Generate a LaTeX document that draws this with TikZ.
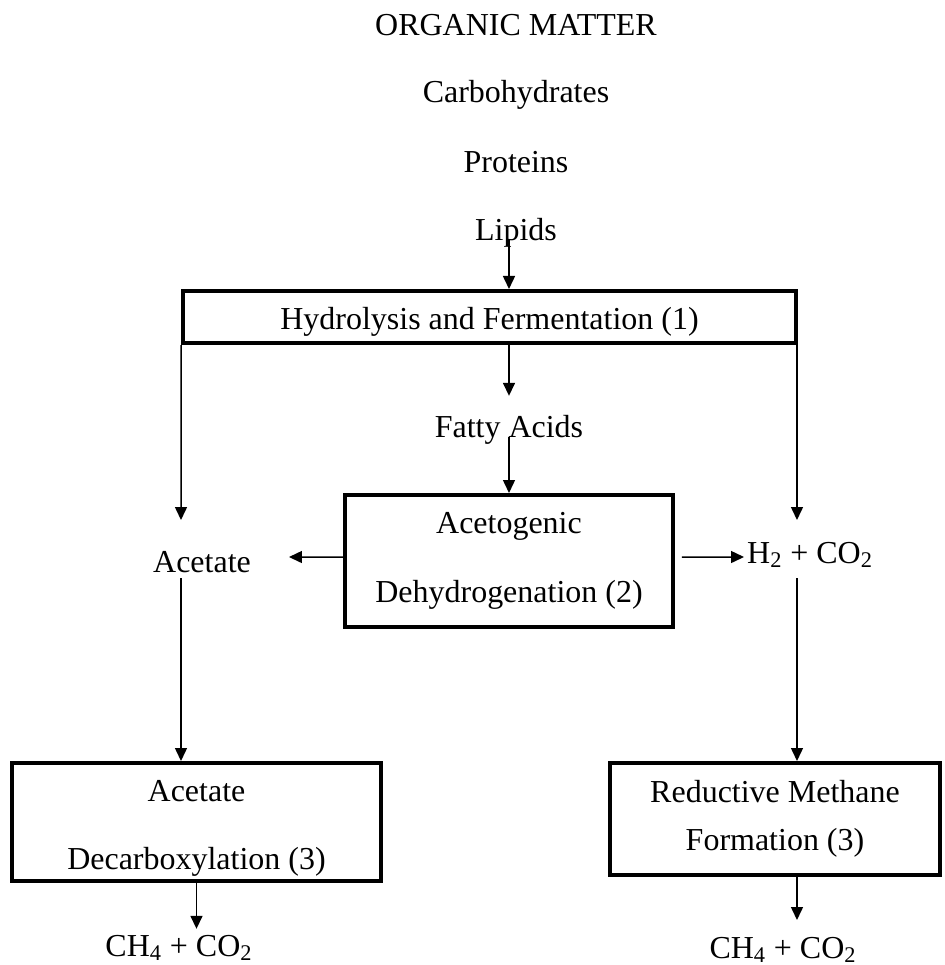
\documentclass[tikz,border=0pt]{standalone}
\usepackage{fontspec}
\setmainfont{Liberation Serif}
\usetikzlibrary{arrows.meta,positioning}

\begin{document}
\begin{tikzpicture}[x=0.02cm, y=-0.02cm, ->, >={Triangle[length=0.26cm,width=0.24cm]}, line width=0.85pt,
  every node/.style={font=\fontsize{18.2}{22}\selectfont, inner sep=3pt},
  stage/.style={draw, line width=2.3pt, align=center, inner sep=0pt},
  lbl/.style={anchor=base}]
\useasboundingbox (0,0) rectangle (945,965);
\node[lbl] (organic) at (516,35) {ORGANIC MATTER};
\node[lbl] (carbo) at (516,102) {Carbohydrates};
\node[lbl] (prot) at (516,172) {Proteins};
\node[lbl] (lipids) at (516,240) {Lipids};
\node[stage, minimum width=12.26cm, minimum height=1.04cm, text height=0.5cm, text depth=0cm] (hyd) at (489.5,317) {Hydrolysis and Fermentation (1)};
\node[lbl] (fatty) at (509,437) {Fatty Acids};
\node[stage, minimum width=6.56cm, minimum height=2.64cm] (aceto) at (509,561) {Acetogenic\\[0.6cm]Dehydrogenation (2)};
\node[lbl] (acetate) at (202,572) {Acetate};
\node[lbl] (h2) at (810,563) {H\textsubscript{2} + CO\textsubscript{2}};
\node[stage, minimum width=7.38cm, minimum height=2.36cm] (decarb) at (196.5,822) {\rule{0pt}{0.68cm}Acetate\\[0.6cm]Decarboxylation (3)};
\node[stage, minimum width=6.62cm, minimum height=2.24cm] (reduc) at (775,819) {Reductive Methane\\[0.18cm]Formation (3)};
\node[lbl] (ch4a) at (179,956) {CH\textsubscript{4} + CO\textsubscript{2}};
\node[lbl] (ch4b) at (783,958) {CH\textsubscript{4} + CO\textsubscript{2}};
\coordinate (acetT) at (181,520);
\coordinate (acetB) at (181,578);
\coordinate (acetR) at (289,557);
\coordinate (h2T) at (797,520);
\coordinate (h2B) at (797,578);
\coordinate (h2L) at (744,557);
\coordinate (ch4bT) at (797,920);
\draw (lipids.base -| fatty.base) -- (hyd.north -| fatty.base);
\draw[shorten >=0.26cm] (hyd.south -| fatty.base) -- (fatty.north);
\draw (fatty.base) -- (aceto.north);
\draw (hyd.south west) -- (acetT);
\draw (acetB) -- (acetB |- decarb.north);
\draw (hyd.south east -| h2T) -- (h2T);
\draw (h2B) -- (h2B |- reduc.north);
\draw ([yshift=0.08cm]aceto.west) -- (acetR);
\draw[shorten <=0.14cm] ([yshift=0.08cm]aceto.east) -- (h2L);
\draw (decarb.south) -- (decarb.south |- ch4a.north);
\draw (reduc.south -| h2B) -- (ch4bT);
\end{tikzpicture}
\end{document}
